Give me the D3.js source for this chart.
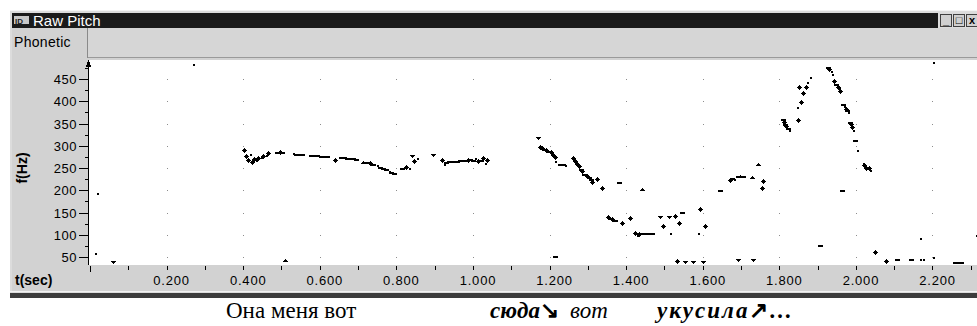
<!DOCTYPE html>
<html>
<head>
<meta charset="utf-8">
<script src="https://cdn.jsdelivr.net/npm/d3@7/dist/d3.min.js"></script>
<style>
  body { margin: 0; background: #fff; }
  svg { display: block; }
  .ui { font-family: "Liberation Sans", Arial, sans-serif; }
  .cap { font-family: "Liberation Serif", "Times New Roman", serif; font-size: 23px; }
</style>
</head>
<body>
<svg id="chart" width="977" height="326"></svg>
<script>
// pitch track: time (s), frequency (Hz), marker shape
const tSec = [
  0.013, 0.018, 0.060, 0.269, 0.509,
  0.402, 0.408, 0.413, 0.418, 0.423, 0.429, 0.434, 0.440, 0.446, 0.452, 0.459, 0.465,
  0.488, 0.495, 0.502, 0.530, 0.537, 0.545, 0.553,
  0.578, 0.586, 0.594, 0.602, 0.610, 0.618, 0.640,
  0.655, 0.663, 0.671, 0.679, 0.687, 0.695,
  0.713, 0.722, 0.731, 0.740, 0.749, 0.758, 0.766, 0.773, 0.780, 0.787, 0.793,
  0.815, 0.824, 0.832, 0.840, 0.846, 0.853,
  0.896, 0.919, 0.924, 0.930, 0.937, 0.944, 0.951, 0.958, 0.965, 0.972, 0.979, 0.986,
  0.993, 1.000, 1.006, 1.013, 1.020, 1.026, 1.031, 1.037,
  1.170, 1.176, 1.181, 1.186, 1.192, 1.198, 1.204, 1.209, 1.213, 1.215, 1.227, 1.234, 1.240,
  1.261, 1.266, 1.271, 1.276, 1.281, 1.286, 1.291, 1.297, 1.303, 1.309, 1.311, 1.324, 1.337,
  1.381, 1.441,
  1.352, 1.358, 1.364, 1.371, 1.389, 1.410, 1.423, 1.429, 1.433, 1.440, 1.447, 1.454, 1.461, 1.468,
  1.488, 1.496, 1.512, 1.527, 1.538, 1.546, 1.514, 1.587, 1.593, 1.606,
  1.214, 1.533, 1.554, 1.574, 1.601, 1.692, 1.731,
  1.645, 1.671, 1.676, 1.681, 1.692, 1.698, 1.705, 1.728, 1.744, 1.757, 1.755,
  1.809, 1.812, 1.815, 1.818, 1.822, 1.826, 1.849, 1.846, 1.856, 1.851, 1.862, 1.869, 1.872, 1.880,
  1.927, 1.930, 1.934, 1.938, 1.943, 1.949, 1.953, 1.956, 1.958, 1.966, 1.970, 1.973, 1.977, 1.980,
  1.984, 1.987, 1.990, 1.993, 1.997, 2.003, 2.018, 2.022, 2.026, 2.031, 2.035, 2.038,
  1.963, 1.906, 2.050, 2.078, 2.107, 2.144, 2.167, 2.175, 2.201, 2.258, 2.266, 2.274, 2.167, 2.313, 2.201
];
const fHz = [
  59, 194, 39, 484, 43,
  290, 277, 268, 281, 263, 270, 267, 273, 275, 278, 280, 283,
  286, 286, 285, 283, 282, 281, 281,
  279, 279, 279, 278, 278, 277, 268,
  275, 274, 273, 273, 272, 271,
  264, 263, 261, 259, 256, 253, 250, 247, 244, 242, 239,
  249, 252, 250, 278, 266, 272,
  279, 268, 259, 264, 265, 265, 266, 266, 267, 267, 268, 269,
  270, 268, 273, 266, 268, 272, 262, 268,
  317, 297, 294, 292, 290, 288, 285, 280, 274, 266, 259, 258, 257,
  272, 266, 260, 254, 248, 243, 237, 232, 229, 226, 219, 225, 205,
  218, 203,
  140, 138, 136, 133, 126, 138, 104, 99, 102, 104, 104, 104, 104, 104,
  140, 120, 140, 142, 126, 151, 104, 104, 157, 120,
  52, 41, 39, 39, 39, 43, 43,
  200, 223, 228, 226, 232, 232, 233, 230, 259, 221, 205,
  360, 354, 349, 345, 340, 335, 358, 387, 398, 432, 418, 432, 443, 454,
  477, 472, 467, 462, 445, 438, 433, 429, 424, 393, 389, 385, 380, 375,
  354, 349, 342, 335, 312, 290, 262, 256, 251, 253, 249, 245,
  200, 77, 61, 41, 46, 46, 46, 46, 50, 39, 39, 39, 93, 99, 488
];
const shape = [
  ".", ".", "v", ".", "^",
  "+", "+", "+", ".", "+", "+", ".", "+", ".", "+", ".", "+",
  "-", "+", "-", ".", "-", ".", "-",
  "-", "-", "-", "-", ".", "-", "+",
  "-", "-", "-", "-", "-", "-",
  "^", "-", "+", "-", ".", "-", "-", "-", ".", "-", "-",
  "-", "+", ".", "v", "+", ".",
  "v", "+", ".", "-", "-", "-", "-", "-", "-", "-", "-", "+",
  "-", "-", ".", "+", "-", "+", ".", "+",
  "v", "+", "+", "-", "+", "-", "+", "+", "+", ".", "-", "-", ".",
  "+", "+", "+", "+", "-", "+", "-", "+", "-", "-", "+", "+", "+",
  "-", "^",
  "+", "-", "+", "-", "+", "+", "+", ".", "+", "-", "-", "-", "-", "-",
  "v", "+", "v", "+", "+", "-", ".", ".", "+", "+",
  "-", "+", "v", "v", "v", "v", "v",
  "-", "+", "-", ".", "-", "^", "-", "^", "^", "+", "+",
  "-", "+", "-", "+", "-", ".", "+", ".", "+", "+", "+", "+", ".", ".",
  "-", "+", ".", ".", "+", "-", "+", ".", "+", "-", ".", "^", "-", ".",
  "-", "+", "+", ".", "-", ".", ".", "+", "+", "-", "+", ".",
  "-", "-", "+", "+", "-", "-", ".", ".", ".", "-", "-", "-", ".", ".", "."
];

const yTicks = [50, 100, 150, 200, 250, 300, 350, 400, 450];
const xTickLabels = ["0.200", "0.400", "0.600", "0.800", "1.000", "1.200", "1.400", "1.600", "1.800", "2.000", "2.200"];

const svg = d3.select("#chart");

// scales
const x = d3.scaleLinear().domain([0, 2.311]).range([90, 975]);
const y = d3.scaleLinear().domain([50, 450]).range([257, 79]);

// ---- window chrome ----
svg.append("rect").attr("x", 10).attr("y", 10).attr("width", 967).attr("height", 288).attr("fill", "#dcdcdc");
svg.append("line").attr("x1", 10).attr("x2", 977).attr("y1", 10.5).attr("y2", 10.5).attr("stroke", "#f4f4f4");
svg.append("rect").attr("x", 12).attr("y", 13).attr("width", 926).attr("height", 15).attr("fill", "#1b1b1b");
// title icon
svg.append("rect").attr("x", 14).attr("y", 16).attr("width", 15).attr("height", 8).attr("fill", "#c8c8c8");
svg.append("text").attr("class", "ui").attr("x", 15).attr("y", 23.5)
  .style("font-size", "8px").style("font-weight", "bold").attr("fill", "#1b1b1b").text("ID");
svg.append("text").attr("class", "ui").attr("x", 33).attr("y", 26)
  .style("font-size", "15px").attr("fill", "#fff").text("Raw Pitch");

// title buttons
["_", "□", "x"].forEach((s, i) => {
  svg.append("rect").attr("x", 940.5 + i * 13).attr("y", 14.5).attr("width", 11).attr("height", 12)
    .attr("fill", "#d0d0d0").attr("stroke", "#404040").attr("stroke-width", 1);
  svg.append("text").attr("class", "ui").attr("x", 946 + i * 13).attr("y", 24)
    .attr("text-anchor", "middle").style("font-size", "11px").style("font-weight", "bold").text(s);
});

// body
svg.append("rect").attr("x", 12).attr("y", 28).attr("width", 965).attr("height", 264).attr("fill", "#d2d2d2");
svg.append("rect").attr("x", 88).attr("y", 28).attr("width", 889).attr("height", 29).attr("fill", "#d6d6d6");
svg.append("line").attr("x1", 87.5).attr("x2", 87.5).attr("y1", 28).attr("y2", 58).attr("stroke", "#8a8a8a");
svg.append("line").attr("x1", 88).attr("x2", 977).attr("y1", 57.5).attr("y2", 57.5).attr("stroke", "#9a9a9a");
svg.append("text").attr("class", "ui").attr("x", 14).attr("y", 47)
  .style("font-size", "14px").style("letter-spacing", "0.3px").text("Phonetic");

// plot area
svg.append("rect").attr("x", 89).attr("y", 60).attr("width", 888).attr("height", 205).attr("fill", "#fff");

// bottom border
svg.append("line").attr("x1", 10).attr("x2", 977).attr("y1", 291.5).attr("y2", 291.5).attr("stroke", "#f2f2f2");
svg.append("rect").attr("x", 10).attr("y", 293).attr("width", 967).attr("height", 5).attr("fill", "#3c3c3c");

// ---- grid dots ----
const gridT = d3.range(1, 12).map(i => i * 0.2);
const gridDots = [];
gridT.forEach(t => yTicks.forEach(f => gridDots.push([t, f])));
svg.append("g").selectAll("rect").data(gridDots).enter().append("rect")
  .attr("x", d => Math.round(x(d[0])))
  .attr("y", d => Math.round(y(d[1])))
  .attr("width", 1).attr("height", 1)
  .attr("fill", "#8c8c8c");

// ---- y axis ----
const yAxis = svg.append("g").attr("shape-rendering", "crispEdges");
yAxis.append("line").attr("x1", 88.5).attr("x2", 88.5).attr("y1", 64).attr("y2", 265).attr("stroke", "#000");
yAxis.append("path").attr("d", "M88.5,60 L85.5,67 L91.5,67 Z").attr("fill", "#000");
d3.range(50, 476, 25).forEach(f => {
  const major = f % 50 === 0;
  yAxis.append("line")
    .attr("x1", major ? 79 : 85).attr("x2", 88)
    .attr("y1", Math.round(y(f)) + 0.5).attr("y2", Math.round(y(f)) + 0.5)
    .attr("stroke", "#000");
});
svg.append("g").selectAll("text").data(yTicks).enter().append("text")
  .attr("class", "ui")
  .attr("x", 77).attr("y", d => y(d) + 5)
  .attr("text-anchor", "end")
  .style("font-size", "13px").style("letter-spacing", "0.5px")
  .text(d => d);
svg.append("text").attr("class", "ui")
  .attr("transform", "translate(27,168) rotate(-90)")
  .attr("text-anchor", "middle")
  .style("font-size", "14px").style("font-weight", "bold")
  .text("f(Hz)");

// ---- x axis ----
const xAxis = svg.append("g").attr("shape-rendering", "crispEdges");
d3.range(0, 24).forEach(i => {
  const px = Math.round(x(i * 0.1)) + 0.5;
  xAxis.append("line").attr("x1", px).attr("x2", px).attr("y1", 266).attr("y2", i === 0 ? 272 : 270)
    .attr("stroke", "#000");
});
svg.append("g").selectAll("text").data(xTickLabels).enter().append("text")
  .attr("class", "ui")
  .attr("x", (d, i) => x((i + 1) * 0.2) + 5)
  .attr("y", 285)
  .attr("text-anchor", "middle")
  .style("font-size", "13px").style("letter-spacing", "0.8px")
  .text(d => d);
svg.append("text").attr("class", "ui")
  .attr("x", 15).attr("y", 285)
  .style("font-size", "14px").style("font-weight", "bold")
  .text("t(sec)");

// ---- pitch points ----
const marks = {
  "+": "M-2,0h5v1h-5z M0,-2h1v5h-1z M-1,-1h3v3h-3z",
  "-": "M-2,0h5v2h-5z",
  "v": "M-2,-1h5l-2.5,3z",
  "^": "M-2,2h5l-2.5,-3z",
  ".": "M0,0h2v2h-2z"
};
svg.append("g").attr("shape-rendering", "crispEdges")
  .selectAll("path").data(tSec).enter().append("path")
  .attr("transform", (d, i) => "translate(" + Math.round(x(d)) + "," + Math.round(y(fHz[i])) + ")")
  .attr("d", (d, i) => marks[shape[i]])
  .attr("fill", "#000");

// ---- caption under the window ----
const cap = svg.append("text").attr("class", "cap").attr("y", 318);
cap.append("tspan").attr("x", 226).text("Она меня вот");
cap.append("tspan").attr("x", 490).style("font-weight", "bold").style("font-style", "italic").text("сюда");
cap.append("tspan").style("font-weight", "bold").text("↘");
cap.append("tspan").attr("x", 570).style("font-style", "italic").text("вот");
cap.append("tspan").attr("x", 657).style("font-weight", "bold").style("font-style", "italic")
  .style("letter-spacing", "2px").text("укусила");
cap.append("tspan").style("font-weight", "bold").text("↗…");
</script>
</body>
</html>
